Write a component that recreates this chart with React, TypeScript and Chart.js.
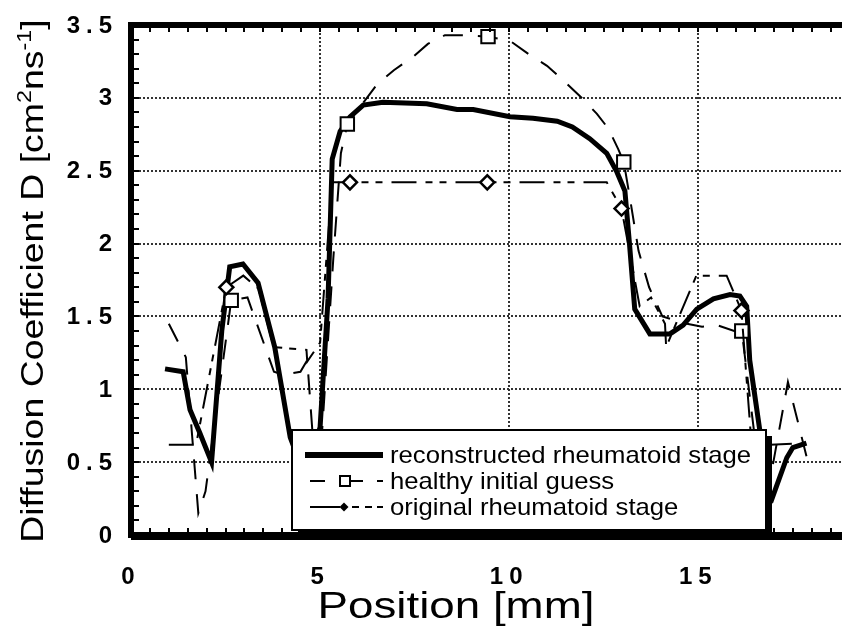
import React, { useEffect, useRef } from 'react';
import { Chart, registerables } from 'chart.js';

Chart.register(...registerables);

// ---------- data ----------
const reconX = [0.9, 1.38, 1.56, 1.82, 2.13, 2.4, 2.61, 2.96, 3.36, 3.8, 4.21, 4.6, 5.0, 5.21, 5.32, 5.53, 5.79, 6.14, 6.66, 7.82, 8.62, 9.05, 10.02, 10.63, 11.27, 11.67, 12.13, 12.58, 12.85, 13.06, 13.18, 13.32, 13.72, 14.25, 14.6, 14.96, 15.4, 15.84, 16.1, 16.28, 16.36, 16.62, 16.8, 16.95, 17.34, 17.5, 17.86];
const reconY = [1.14, 1.12, 0.86, 0.7, 0.5, 1.4, 1.84, 1.86, 1.73, 1.29, 0.67, 0.4, 0.74, 1.62, 2.58, 2.77, 2.87, 2.95, 2.97, 2.96, 2.92, 2.92, 2.87, 2.86, 2.84, 2.8, 2.72, 2.62, 2.49, 2.36, 2.0, 1.55, 1.38, 1.38, 1.44, 1.55, 1.62, 1.65, 1.64, 1.57, 1.2, 0.73, 0.3, 0.25, 0.53, 0.6, 0.63];

const healthyX = [1.0, 1.45, 1.78, 1.97, 2.65, 3.08, 3.78, 4.05, 4.48, 4.66, 4.8, 5.0, 5.35, 5.55, 5.72, 6.5, 6.95, 7.45, 7.85, 8.3, 8.8, 9.44, 10.03, 10.57, 11.0, 11.43, 11.88, 12.32, 12.62, 12.88, 13.03, 13.2, 13.42, 13.7, 14.05, 14.7, 15.1, 15.5, 15.95, 16.15, 16.55, 16.95, 17.37, 17.88];
const healthyY = [1.45, 1.22, 0.15, 0.3, 1.61, 1.63, 1.12, 1.1, 1.12, 1.2, 0.7, 0.5, 1.9, 2.62, 2.82, 3.09, 3.19, 3.28, 3.37, 3.43, 3.43, 3.42, 3.39, 3.29, 3.22, 3.12, 3.01, 2.89, 2.79, 2.65, 2.56, 2.3, 1.95, 1.7, 1.5, 1.45, 1.43, 1.44, 1.4, 1.4, 0.55, 0.45, 1.05, 0.52];
const healthyMarkers = [4, 14, 21, 30, 39];

const origX = [1.0, 1.72, 2.52, 2.97, 3.37, 3.77, 4.64, 4.66, 5.0, 5.32, 5.79, 9.42, 12.58, 12.97, 13.45, 13.75, 14.12, 14.15, 14.95, 15.75, 16.14, 16.4, 16.9, 17.85];
const origY = [0.62, 0.62, 1.7, 1.78, 1.69, 1.29, 1.27, 1.19, 1.32, 2.42, 2.42, 2.42, 2.42, 2.24, 1.57, 1.63, 1.45, 1.29, 1.78, 1.78, 1.54, 0.65, 0.62, 0.63];
const origMarkers = [2, 10, 11, 13, 20];

const seriesNames = ['reconstructed rheumatoid stage', 'healthy initial guess', 'original rheumatoid stage'];

const xTickValues = [0, 5, 10, 15];
const xTickLabels = ['0', '5', '10', '15'];
const yTickValues = [0, 0.5, 1, 1.5, 2, 2.5, 3, 3.5];
const yTickLabels = ['0', '0.5', '1', '1.5', '2', '2.5', '3', '3.5'];
const xGridValues = [5, 10, 15];
const yGridValues = [0.5, 1, 1.5, 2, 2.5, 3];

const xTitle = 'Position [mm]';
const yTitleParts = [
  { t: 'Diffusion Coefficient D [cm', sup: false },
  { t: '2', sup: true },
  { t: 'ns', sup: false },
  { t: '-1', sup: true },
  { t: ']', sup: false },
];

const X_MIN = 0, X_MAX = 18.8, Y_MIN = 0, Y_MAX = 3.5;

// ---------- layout ----------
const W = 842, H = 631;
const AREA_LEFT = 131, AREA_TOP = 25, AREA_BOTTOM = 535;
const FONT = '"Liberation Sans", Arial, Helvetica, sans-serif';

const zip = (xs: number[], ys: number[]) => xs.map((x, i) => ({ x, y: ys[i] }));

function drawSpaced(ctx: CanvasRenderingContext2D, text: string, x: number, y: number, align: string, spacing: number) {
  const chars = Array.from(text);
  const widths = chars.map((c) => ctx.measureText(c).width);
  const total = widths.reduce((a, b) => a + b, 0) + spacing * (chars.length - 1);
  let cx = align === 'left' ? x : align === 'right' ? x - total : x - total / 2;
  ctx.textAlign = 'left';
  chars.forEach((c, i) => {
    ctx.fillText(c, cx, y);
    cx += widths[i] + spacing;
  });
}

function drawStretched(ctx: CanvasRenderingContext2D, text: string, x: number, y: number, sx: number, align: string) {
  const w = ctx.measureText(text).width * sx;
  const left = align === 'left' ? x : align === 'right' ? x - w : x - w / 2;
  ctx.save();
  ctx.translate(left, y);
  ctx.scale(sx, 1);
  ctx.textAlign = 'left';
  ctx.fillText(text, 0, 0);
  ctx.restore();
}

const framePlugin = {
  id: 'frame',
  beforeDatasetsDraw(chart: any) {
    const { ctx, chartArea: a, scales } = chart;
    const xs = scales.x, ys = scales.y;
    ctx.save();
    ctx.strokeStyle = '#333';
    ctx.lineWidth = 2;
    ctx.setLineDash([2, 2]);
    for (const v of xGridValues) {
      const px = Math.round(xs.getPixelForValue(v));
      ctx.beginPath();
      ctx.moveTo(px, a.top);
      ctx.lineTo(px, a.bottom);
      ctx.stroke();
    }
    for (const v of yGridValues) {
      const py = Math.round(ys.getPixelForValue(v));
      ctx.beginPath();
      ctx.moveTo(a.left, py);
      ctx.lineTo(a.right, py);
      ctx.stroke();
    }
    ctx.restore();
  },
  afterDatasetsDraw(chart: any) {
    const { ctx, chartArea: a, scales } = chart;
    const xs = scales.x, ys = scales.y;
    ctx.save();
    ctx.setLineDash([]);
    ctx.strokeStyle = '#000';
    ctx.fillStyle = '#000';

    // inward minor ticks
    ctx.lineWidth = 2;
    for (let i = 1; i < 35; i++) {
      const py = Math.round(ys.getPixelForValue(i / 10));
      ctx.beginPath();
      ctx.moveTo(a.left, py);
      ctx.lineTo(a.left + 8, py);
      ctx.stroke();
    }
    for (let i = 1; i <= 37; i++) {
      const px = Math.round(xs.getPixelForValue(i / 2));
      ctx.beginPath();
      ctx.moveTo(px, a.top);
      ctx.lineTo(px, a.top + 7);
      ctx.moveTo(px, a.bottom);
      ctx.lineTo(px, a.bottom - 7);
      ctx.stroke();
    }

    // thick frame (left, top, bottom)
    ctx.lineWidth = 6;
    ctx.beginPath();
    ctx.moveTo(a.right + 5, a.top);
    ctx.lineTo(a.left, a.top);
    ctx.lineTo(a.left, a.bottom);
    ctx.lineTo(a.right + 5, a.bottom);
    ctx.stroke();
    ctx.lineWidth = 8;
    ctx.beginPath();
    ctx.moveTo(a.left, a.bottom + 1);
    ctx.lineTo(a.right + 5, a.bottom + 1);
    ctx.stroke();

    // legend
    const lx = 292, ly = 430, lw = 474, lh = 100;
    ctx.fillStyle = '#000';
    ctx.fillRect(lx + 6, ly + 6, lw, lh);
    ctx.fillStyle = '#fff';
    ctx.fillRect(lx, ly, lw, lh);
    ctx.lineWidth = 2;
    ctx.strokeStyle = '#000';
    ctx.strokeRect(lx, ly, lw, lh);

    const rows = [455, 481, 507];
    // sample 1: thick line
    ctx.lineWidth = 6;
    ctx.beginPath();
    ctx.moveTo(305, rows[0]);
    ctx.lineTo(383, rows[0]);
    ctx.stroke();
    // sample 2: dashed with square
    ctx.lineWidth = 2;
    ctx.beginPath();
    ctx.moveTo(310, rows[1]); ctx.lineTo(325, rows[1]);
    ctx.moveTo(340, rows[1]); ctx.lineTo(363, rows[1]);
    ctx.moveTo(377, rows[1]); ctx.lineTo(383, rows[1]);
    ctx.stroke();
    ctx.fillStyle = '#fff';
    ctx.fillRect(340, rows[1] - 5, 10, 10);
    ctx.strokeRect(340, rows[1] - 5, 10, 10);
    // sample 3: solid + diamond + dashes
    ctx.beginPath();
    ctx.moveTo(310, rows[2]); ctx.lineTo(340, rows[2]);
    ctx.moveTo(352, rows[2]); ctx.lineTo(359, rows[2]);
    ctx.moveTo(365, rows[2]); ctx.lineTo(372, rows[2]);
    ctx.moveTo(377, rows[2]); ctx.lineTo(383, rows[2]);
    ctx.stroke();
    ctx.fillStyle = '#000';
    ctx.beginPath();
    ctx.moveTo(344, rows[2] - 4.5);
    ctx.lineTo(348.5, rows[2]);
    ctx.lineTo(344, rows[2] + 4.5);
    ctx.lineTo(339.5, rows[2]);
    ctx.closePath();
    ctx.fill();

    ctx.fillStyle = '#000';
    ctx.font = `24px ${FONT}`;
    ctx.textBaseline = 'middle';
    seriesNames.forEach((n, i) => drawStretched(ctx, n, 390, rows[i] + 1, 1.07, 'left'));

    // tick labels
    ctx.font = `bold 24px ${FONT}`;
    ctx.textBaseline = 'middle';
    yTickValues.forEach((v, i) => {
      drawSpaced(ctx, yTickLabels[i], a.left - 19, ys.getPixelForValue(v) + 1, 'right', 6);
    });
    ctx.textBaseline = 'alphabetic';
    xTickValues.forEach((v, i) => {
      drawSpaced(ctx, xTickLabels[i], xs.getPixelForValue(v) - 3, 584, 'center', 6);
    });

    // x title
    ctx.font = `36px ${FONT}`;
    drawStretched(ctx, xTitle, 456, 618, 1.27, 'center');

    // y title with superscripts
    ctx.save();
    ctx.translate(43, (a.top + a.bottom) / 2 + 1);
    ctx.rotate(-Math.PI / 2);
    ctx.scale(1.17, 1);
    const mainFont = `32px ${FONT}`;
    const supFont = `20px ${FONT}`;
    let total = 0;
    for (const p of yTitleParts) {
      ctx.font = p.sup ? supFont : mainFont;
      total += ctx.measureText(p.t).width;
    }
    let cx = -total / 2;
    ctx.textAlign = 'left';
    for (const p of yTitleParts) {
      ctx.font = p.sup ? supFont : mainFont;
      ctx.fillText(p.t, cx, p.sup ? -12 : 0);
      cx += ctx.measureText(p.t).width;
    }
    ctx.restore();

    ctx.restore();
  },
};

export default function App() {
  const ref = useRef<HTMLCanvasElement>(null);
  useEffect(() => {
    const canvas = ref.current;
    if (!canvas) return;
    const chart = new Chart(canvas, {
      type: 'line',
      data: {
        datasets: [
          {
            label: seriesNames[0],
            data: zip(reconX, reconY),
            borderColor: '#000',
            borderWidth: 5,
            pointRadius: 0,
            tension: 0,
            fill: false,
            order: 3,
          },
          {
            label: seriesNames[1],
            data: zip(healthyX, healthyY),
            borderColor: '#000',
            borderWidth: 2,
            borderDash: [20, 15],
            pointStyle: 'rect',
            pointRadius: (c: any) => (healthyMarkers.includes(c.dataIndex) ? 9.5 : 0),
            pointBackgroundColor: '#fff',
            pointBorderColor: '#000',
            pointBorderWidth: 2,
            tension: 0,
            fill: false,
            order: 2,
          },
          {
            label: seriesNames[2],
            data: zip(origX, origY),
            borderColor: '#000',
            borderWidth: 2,
            borderDash: [25, 9, 7, 7, 7, 9],
            pointStyle: 'rectRot',
            pointRadius: (c: any) => (origMarkers.includes(c.dataIndex) ? 7 : 0),
            pointBackgroundColor: '#fff',
            pointBorderColor: '#000',
            pointBorderWidth: 2.5,
            tension: 0,
            fill: false,
            order: 1,
          },
        ],
      },
      options: {
        responsive: false,
        animation: false,
        devicePixelRatio: 1,
        events: [],
        layout: { padding: { top: AREA_TOP, right: 0, left: 0, bottom: 0 } },
        plugins: {
          legend: { display: false },
          tooltip: { enabled: false },
        },
        scales: {
          x: {
            type: 'linear',
            min: X_MIN,
            max: X_MAX,
            grid: { display: false },
            border: { display: false },
            ticks: { display: false },
            afterFit: (s: any) => { s.height = H - AREA_BOTTOM; },
          },
          y: {
            type: 'linear',
            min: Y_MIN,
            max: Y_MAX,
            grid: { display: false },
            border: { display: false },
            ticks: { display: false },
            afterFit: (s: any) => { s.width = AREA_LEFT; },
          },
        },
      } as any,
      plugins: [framePlugin],
    });
    return () => chart.destroy();
  }, []);
  return (
    <div style={{ position: 'absolute', left: 0, top: 0, width: W, height: H, background: '#fff' }}>
      <canvas ref={ref} width={W} height={H} style={{ display: 'block', width: W, height: H }} />
    </div>
  );
}
